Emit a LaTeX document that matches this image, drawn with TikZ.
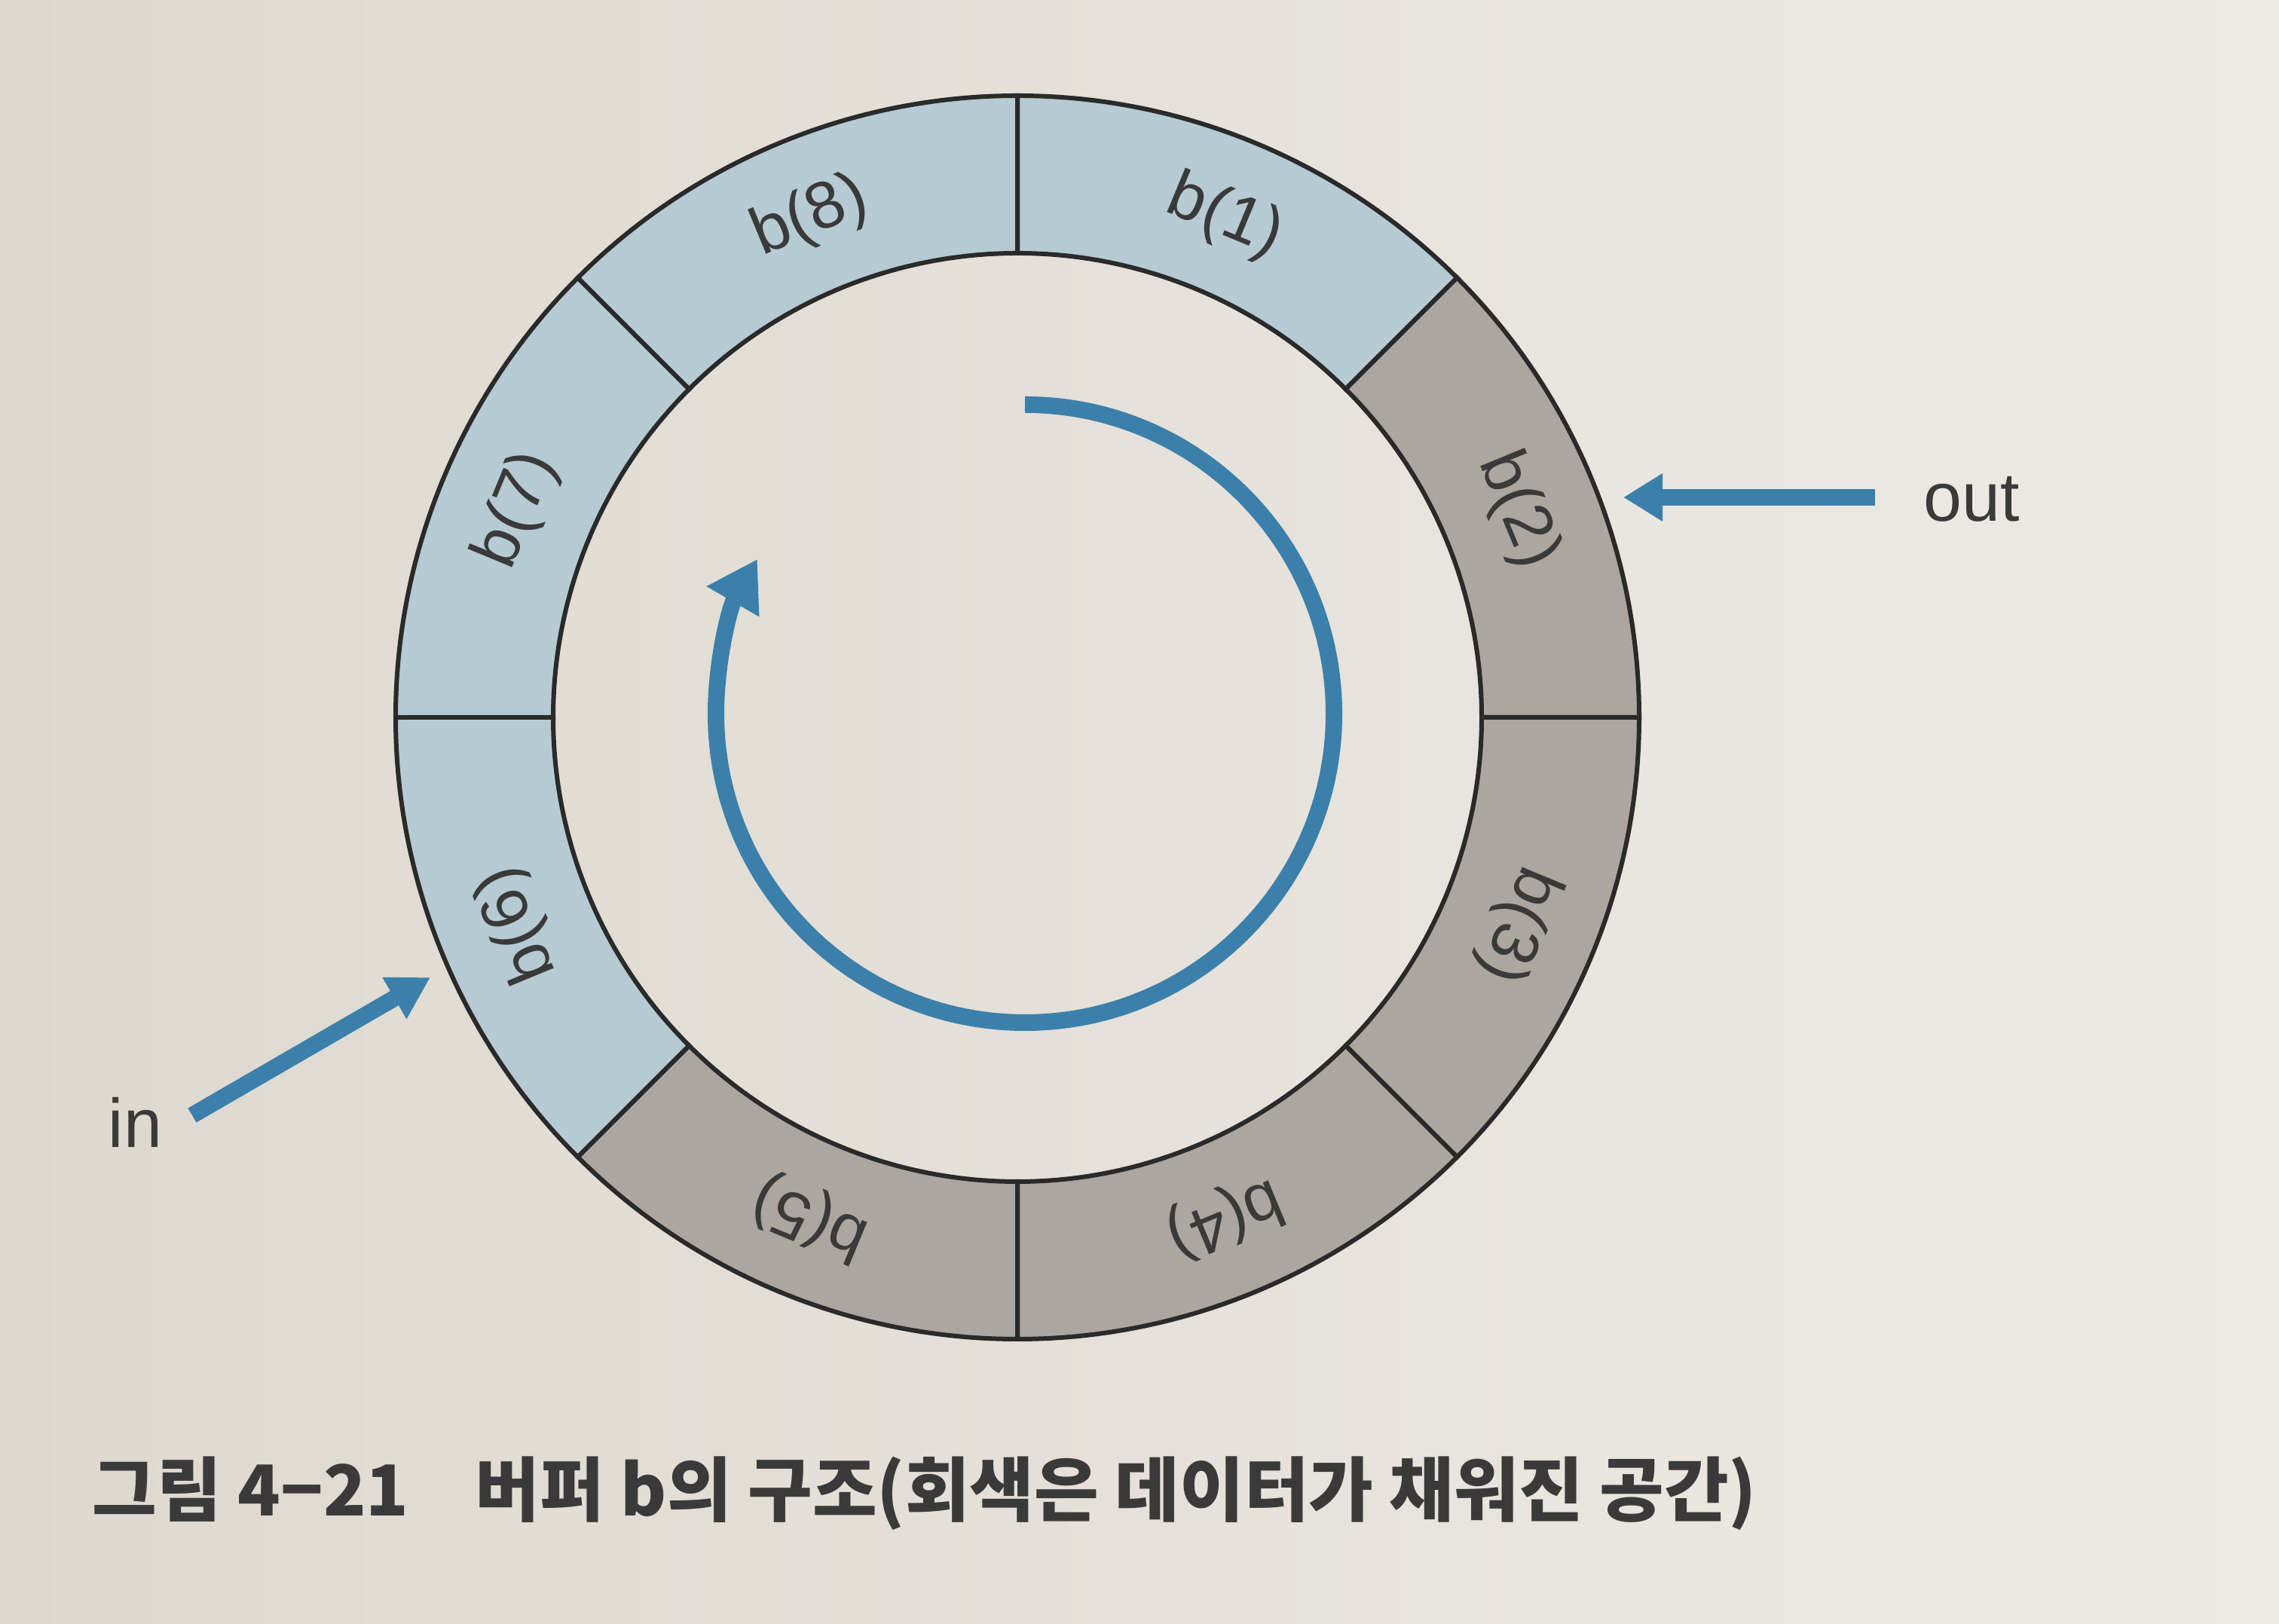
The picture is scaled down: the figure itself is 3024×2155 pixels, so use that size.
\documentclass[tikz,border=0pt]{standalone}
\usepackage{fontspec}
\setmainfont{Liberation Sans}
\newfontfamily\krfont{Noto Sans CJK KR}
\usetikzlibrary{arrows.meta}
\definecolor{bgL}{HTML}{DDD8CF}
\definecolor{bgR}{HTML}{EDEAE5}
\definecolor{segblue}{HTML}{B6CAD4}
\definecolor{seggray}{HTML}{ABA7A0}
\definecolor{ringline}{HTML}{2A2A2A}
\definecolor{arrowblue}{HTML}{3B7FAB}
\definecolor{txt}{HTML}{3A3A3A}
\tikzset{
  segbox/.style={draw=ringline, line width=0.06cm},
  seglabel/.style={text=txt, font=\fontsize{25pt}{30pt}\selectfont, inner sep=0pt},
  sidelabel/.style={text=txt, font=\fontsize{26pt}{31pt}\selectfont, inner sep=0pt},
  bluearrow/.style={draw=arrowblue, line width=0.22cm},
}
\newcommand{\ringseg}[3]{%
  \filldraw[segbox, fill=#3] (#1:616) arc[start angle=#1, end angle=#2, radius=616]
    -- (#2:825) arc[start angle=#2, end angle=#1, radius=825] -- cycle;}
\begin{document}
\begin{tikzpicture}[x=0.01cm,y=0.01cm]
\useasboundingbox (0,0) rectangle (3024,2155);
\shade[left color=bgL, right color=bgR] (0,0) rectangle (3024,2155);
\begin{scope}[shift={(1350,1203)}]
  \ringseg{45}{90}{segblue}
  \ringseg{0}{45}{seggray}
  \ringseg{-45}{0}{seggray}
  \ringseg{-90}{-45}{seggray}
  \ringseg{-135}{-90}{seggray}
  \ringseg{180}{225}{segblue}
  \ringseg{135}{180}{segblue}
  \ringseg{90}{135}{segblue}
  \node[seglabel, rotate=-22.5] (b1) at (67.5:718) {b(1)};
  \node[seglabel, rotate=-67.5] (b2) at (22.5:718) {b(2)};
  \node[seglabel, rotate=-112.5] (b3) at (-22.5:718) {b(3)};
  \node[seglabel, rotate=-157.5] (b4) at (-67.5:718) {b(4)};
  \node[seglabel, rotate=157.5] (b5) at (-112.5:718) {b(5)};
  \node[seglabel, rotate=112.5] (b6) at (202.5:718) {b(6)};
  \node[seglabel, rotate=67.5] (b7) at (157.5:718) {b(7)};
  \node[seglabel, rotate=22.5] (b8) at (112.5:718) {b(8)};
\end{scope}
% inner circular arrow
\coordinate (arcstart) at (1360,1618);
\draw[bluearrow, -{Triangle[length=0.65cm,width=0.76cm]}] (arcstart)
  arc[start angle=90, end angle=-210, radius=410];
% out arrow
\coordinate (outtail) at (2488,1495);
\coordinate (outtip) at (2154,1495);
\draw[bluearrow, -{Triangle[length=0.52cm,width=0.6cm]}] (outtail) -- (outtip);
\node[sidelabel, anchor=base west] (outlbl) at (2552,1463) {out};
% in arrow
\coordinate (intail) at (255,675);
\coordinate (intip) at (571,858);
\draw[bluearrow, -{Triangle[length=0.55cm,width=0.6cm]}] (intail) -- (intip);
\node[sidelabel, anchor=base west] (inlbl) at (143,632) {in};
% caption
\node[anchor=base west, inner sep=0pt, text=txt, font=\krfont\bfseries\fontsize{26.5pt}{31pt}\selectfont] (caption) at (122,143)
  {그림 4−21\hspace{0.95em}버퍼 b의 구조(회색은 데이터가 채워진 공간)};
\end{tikzpicture}
\end{document}
